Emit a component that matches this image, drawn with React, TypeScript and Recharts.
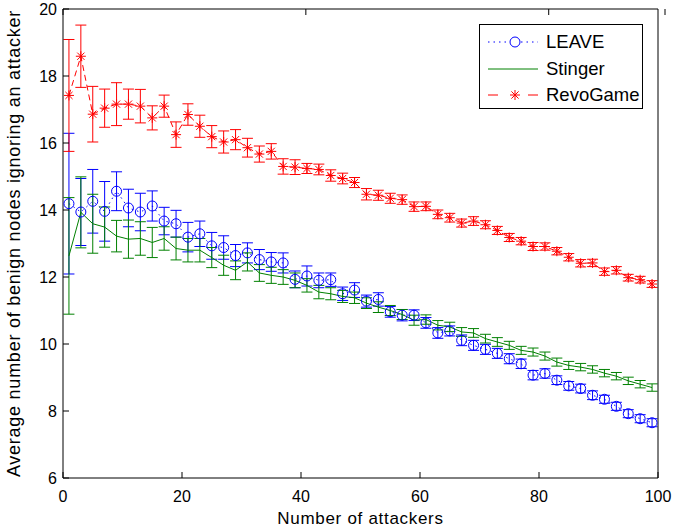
import React from 'react';
import { ComposedChart, Line, XAxis, YAxis, ErrorBar, Legend } from 'recharts';

const attackers = [
    1, 3, 5, 7, 9, 11, 13, 15, 17, 19, 21, 23, 25, 27, 29, 31, 33, 35, 37, 39, 41, 43, 45, 47, 49,
    51, 53, 55, 57, 59, 61, 63, 65, 67, 69, 71, 73, 75, 77, 79, 81, 83, 85, 87, 89, 91, 93, 95, 97, 99,
];

const leave = [
    14.19, 13.94, 14.26, 13.96, 14.56, 14.06, 13.94, 14.12, 13.67, 13.59, 13.19, 13.29, 12.93, 12.88, 12.64,
    12.72, 12.52, 12.45, 12.42, 11.93, 12.03, 11.9, 11.92, 11.5, 11.61, 11.28, 11.33, 10.96, 10.86, 10.86,
    10.63, 10.33, 10.39, 10.11, 9.96, 9.84, 9.72, 9.56, 9.41, 9.07, 9.12, 8.92, 8.75, 8.67, 8.47,
    8.35, 8.14, 7.92, 7.77, 7.65,
];
const leaveErr = [
    2.1, 1.0, 0.95, 0.89, 0.58, 0.56, 0.56, 0.45, 0.41, 0.4, 0.44, 0.38, 0.4, 0.35, 0.33,
    0.3, 0.3, 0.28, 0.3, 0.25, 0.3, 0.22, 0.2, 0.2, 0.22, 0.18, 0.2, 0.16, 0.17, 0.16,
    0.16, 0.16, 0.15, 0.16, 0.15, 0.15, 0.15, 0.15, 0.14, 0.14, 0.14, 0.13, 0.13, 0.13, 0.13,
    0.12, 0.12, 0.12, 0.12, 0.12,
];

const stinger = [
    12.63, 13.93, 13.59, 13.49, 13.22, 13.13, 13.15, 13.03, 13.15, 12.85, 12.8, 12.8, 12.58, 12.35, 12.2,
    12.45, 12.12, 12.05, 12.0, 11.9, 11.75, 11.55, 11.5, 11.42, 11.38, 11.22, 11.1, 11.0, 10.88, 10.71,
    10.73, 10.56, 10.51, 10.36, 10.33, 10.16, 10.06, 9.96, 9.81, 9.76, 9.64, 9.46, 9.36, 9.31, 9.24,
    9.13, 9.04, 8.9, 8.8, 8.7,
];
const stingerErr = [
    1.74, 1.06, 0.88, 0.6, 0.47, 0.57, 0.5, 0.45, 0.35, 0.34, 0.35, 0.35, 0.3, 0.3, 0.28,
    0.27, 0.25, 0.24, 0.22, 0.22, 0.2, 0.2, 0.18, 0.18, 0.17, 0.16, 0.16, 0.15, 0.15, 0.15,
    0.14, 0.14, 0.14, 0.13, 0.13, 0.13, 0.13, 0.12, 0.12, 0.12, 0.12, 0.12, 0.12, 0.11, 0.11,
    0.11, 0.11, 0.11, 0.11, 0.11,
];

const revoGame = [
    17.42, 18.59, 16.86, 17.04, 17.16, 17.16, 17.1, 16.75, 17.1, 16.25, 16.85, 16.5, 16.19, 16.03, 16.1,
    15.86, 15.67, 15.75, 15.3, 15.28, 15.24, 15.21, 15.03, 14.94, 14.82, 14.47, 14.44, 14.35, 14.31, 14.1,
    14.11, 13.87, 13.77, 13.61, 13.67, 13.56, 13.39, 13.18, 13.07, 12.91, 12.91, 12.77, 12.59, 12.41, 12.42,
    12.16, 12.2, 11.98, 11.92, 11.79,
];
const revoGameErr = [
    1.67, 0.93, 0.83, 0.57, 0.64, 0.45, 0.5, 0.36, 0.33, 0.38, 0.32, 0.33, 0.33, 0.33, 0.3,
    0.28, 0.24, 0.23, 0.23, 0.22, 0.15, 0.16, 0.17, 0.16, 0.15, 0.17, 0.15, 0.15, 0.14, 0.14,
    0.13, 0.13, 0.13, 0.12, 0.13, 0.12, 0.12, 0.12, 0.11, 0.12, 0.11, 0.11, 0.11, 0.11, 0.11,
    0.11, 0.11, 0.1, 0.1, 0.1,
];

const xTicks = [0, 20, 40, 60, 80, 100];
const yTicks = [6, 8, 10, 12, 14, 16, 18, 20];

const data = attackers.map((a, i) => ({
    x: a,
    leave: leave[i],
    leaveErr: leaveErr[i],
    stinger: stinger[i],
    stingerErr: stingerErr[i],
    revoGame: revoGame[i],
    revoGameErr: revoGameErr[i],
}));

const FONT = '"Liberation Sans", Arial, Helvetica, sans-serif';
const BLUE = '#0000ff';
const GREEN = '#008000';
const RED = '#ff0000';
const TICK = 6;

// matlab style inward ticks
const LeftTick = (p: any) => (
    <g>
        <line x1={p.x} x2={p.x + TICK} y1={p.y} y2={p.y} stroke="#000" />
        <text x={p.x - 6} y={p.y} textAnchor="end" dominantBaseline="central" fontSize={16} fontFamily={FONT} fill="#000">
            {p.payload.value}
        </text>
    </g>
);
const RightTick = (p: any) => <line x1={p.x} x2={p.x - TICK} y1={p.y} y2={p.y} stroke="#000" />;
const BottomTick = (p: any) => (
    <g>
        <line x1={p.x} x2={p.x} y1={p.y} y2={p.y - TICK} stroke="#000" />
        <text x={p.x} y={p.y + 18} textAnchor="middle" dominantBaseline="central" fontSize={16} fontFamily={FONT} fill="#000">
            {p.payload.value}
        </text>
    </g>
);
const TopTick = (p: any) => <line x1={p.x} x2={p.x} y1={p.y} y2={p.y + TICK} stroke="#000" />;

const Asterisk = ({ cx, cy, r = 5, color = RED }: { cx: number; cy: number; r?: number; color?: string }) => {
    const d = r * 0.72;
    return (
        <g stroke={color} strokeWidth={1}>
            <line x1={cx - r} x2={cx + r} y1={cy} y2={cy} />
            <line x1={cx} x2={cx} y1={cy - r} y2={cy + r} />
            <line x1={cx - d} x2={cx + d} y1={cy - d} y2={cy + d} />
            <line x1={cx - d} x2={cx + d} y1={cy + d} y2={cy - d} />
        </g>
    );
};

const circleDot = (p: any) => (
    <circle key={`c${p.index}`} cx={p.cx} cy={p.cy} r={5} fill="none" stroke={BLUE} strokeWidth={1} />
);
const starDot = (p: any) => (
    <g key={`s${p.index}`}>
        <Asterisk cx={p.cx} cy={p.cy} />
    </g>
);

const legendRows = [
    { name: 'LEAVE', color: BLUE, dash: '1.5 4', marker: 'circle' },
    { name: 'Stinger', color: GREEN, dash: undefined, marker: 'none' },
    { name: 'RevoGame', color: RED, dash: '10 30', marker: 'star' },
];

const renderLegend = () => (
    <div
        style={{
            border: '1px solid #000',
            background: '#fff',
            width: 164,
            height: 85,
            boxSizing: 'border-box',
            paddingTop: 4,
            fontFamily: FONT,
        }}
    >
        {legendRows.map((r) => (
            <div key={r.name} style={{ display: 'flex', alignItems: 'center', height: 26.5 }}>
                <svg width={66} height={20} style={{ display: 'block' }}>
                    <line x1={8} x2={58} y1={10} y2={10} stroke={r.color} strokeDasharray={r.dash} strokeWidth={1} />
                    {r.marker === 'circle' && <circle cx={35} cy={10} r={5} fill="#fff" stroke={r.color} />}
                    {r.marker === 'star' && <Asterisk cx={35} cy={10} color={r.color} />}
                </svg>
                <span style={{ fontSize: 18.5, color: '#000', lineHeight: '20px' }}>{r.name}</span>
            </div>
        ))}
    </div>
);

const App: React.FC = () => {
    return (
        <div style={{ position: 'absolute', left: 0, top: 0, width: 677, height: 529, background: '#fff' }}>
            <ComposedChart width={677} height={529} data={data} margin={{ top: 0, right: 0, bottom: 0, left: 0 }}>
                <XAxis
                    xAxisId="b"
                    type="number"
                    dataKey="x"
                    domain={[0, 100]}
                    ticks={xTicks}
                    height={51}
                    tickSize={0}
                    tickMargin={0}
                    tickLine={false}
                    tick={BottomTick}
                    axisLine={{ stroke: '#000' }}
                    label={{ value: 'Number of attackers', position: 'insideBottom', offset: 5, fontSize: 17, fill: '#000', fontFamily: FONT, style: { letterSpacing: 0.7 } }}
                />
                <XAxis
                    xAxisId="t"
                    orientation="top"
                    type="number"
                    domain={[0, 100]}
                    ticks={xTicks}
                    height={9}
                    tickSize={0}
                    tickMargin={0}
                    tickLine={false}
                    tick={TopTick}
                    axisLine={{ stroke: '#000' }}
                />
                <YAxis
                    yAxisId="l"
                    type="number"
                    domain={[6, 20]}
                    ticks={yTicks}
                    width={63}
                    tickSize={0}
                    tickMargin={0}
                    tickLine={false}
                    tick={LeftTick}
                    axisLine={{ stroke: '#000' }}
                    label={{
                        value: 'Average number of benign nodes ignoring an attacker',
                        angle: -90,
                        position: 'insideLeft',
                        offset: 14,
                        fontSize: 18,
                        fill: '#000',
                        fontFamily: FONT,
                        style: { textAnchor: 'middle', letterSpacing: 0.75 },
                    }}
                />
                <YAxis
                    yAxisId="r"
                    orientation="right"
                    type="number"
                    domain={[6, 20]}
                    ticks={yTicks}
                    width={19}
                    tickSize={0}
                    tickMargin={0}
                    tickLine={false}
                    tick={RightTick}
                    axisLine={{ stroke: '#000' }}
                />
                <Legend
                    content={renderLegend}
                    layout="horizontal"
                    align="center"
                    verticalAlign="middle"
                    wrapperStyle={{ left: 479, top: 24, width: 166 }}
                />
                <Line
                    xAxisId="b"
                    yAxisId="l"
                    dataKey="leave"
                    name="LEAVE"
                    stroke={BLUE}
                    strokeWidth={1}
                    strokeDasharray="1.5 4"
                    dot={circleDot}
                    activeDot={false}
                    isAnimationActive={false}
                >
                    <ErrorBar dataKey="leaveErr" direction="y" width={5.5} stroke={BLUE} strokeWidth={1} isAnimationActive={false} />
                </Line>
                <Line
                    xAxisId="b"
                    yAxisId="l"
                    dataKey="stinger"
                    name="Stinger"
                    stroke={GREEN}
                    strokeWidth={1}
                    dot={false}
                    activeDot={false}
                    isAnimationActive={false}
                >
                    <ErrorBar dataKey="stingerErr" direction="y" width={5.5} stroke={GREEN} strokeWidth={1} isAnimationActive={false} />
                </Line>
                <Line
                    xAxisId="b"
                    yAxisId="l"
                    dataKey="revoGame"
                    name="RevoGame"
                    stroke={RED}
                    strokeWidth={1}
                    strokeDasharray="6 4"
                    dot={starDot}
                    activeDot={false}
                    isAnimationActive={false}
                >
                    <ErrorBar dataKey="revoGameErr" direction="y" width={5.5} stroke={RED} strokeWidth={1} isAnimationActive={false} />
                </Line>
            </ComposedChart>
        </div>
    );
};

export default App;
